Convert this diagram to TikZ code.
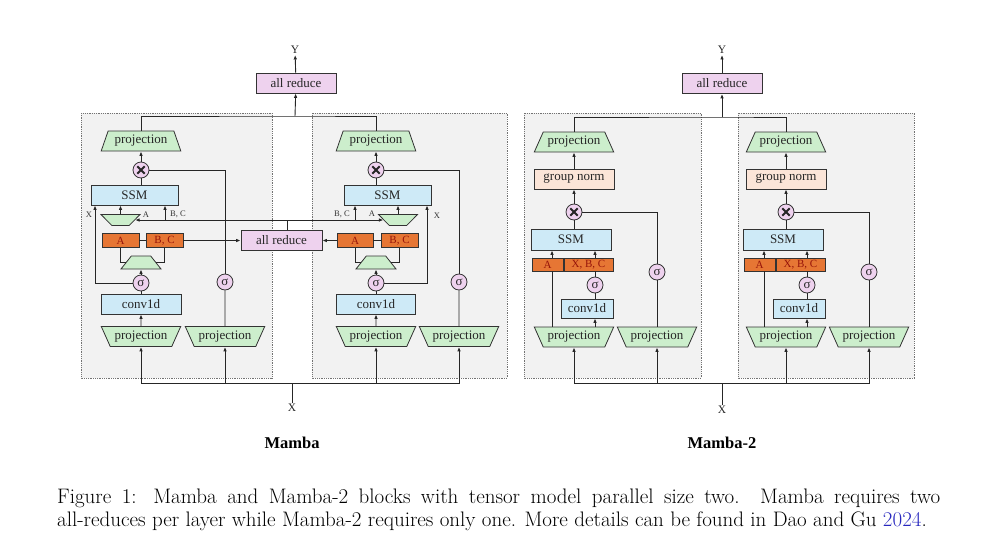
\documentclass[tikz,border=0pt]{standalone}
\usepackage{fontspec}
\newfontfamily\diafont{Liberation Serif}
\usetikzlibrary{shapes.geometric,arrows.meta}
\definecolor{projgreen}{RGB}{204,238,204}
\definecolor{ssmblue}{RGB}{206,234,247}
\definecolor{redpink}{RGB}{238,210,238}
\definecolor{normpeach}{RGB}{251,229,216}
\definecolor{abcorange}{RGB}{230,118,52}
\definecolor{abctext}{RGB}{150,20,10}
\definecolor{panelgray}{RGB}{242,242,242}
\definecolor{citeblue}{RGB}{40,40,190}
\begin{document}
\begin{tikzpicture}[x=1pt,y=-1pt,
    line/.style={draw=black!85,line width=0.9pt},
    arr/.style={line,-{Latex[length=4.5pt,width=3.6pt]}},
    panel/.style={draw=black!55,densely dotted,line width=0.8pt,fill=panelgray},
    box/.style={draw=black!80,line width=0.8pt,inner sep=0pt,text=black!85,
      font=\diafont\fontsize{13}{15}\selectfont},
    ssmbox/.style={box,fill=ssmblue,minimum height=20pt},
    reduce/.style={box,fill=redpink,minimum width=80pt,minimum height=20pt},
    normbox/.style={box,fill=normpeach,minimum width=80pt,minimum height=20pt},
    abc/.style={box,fill=abcorange,text=abctext,minimum height=14pt,
      font=\diafont\fontsize{11}{12}\selectfont},
    projup/.style={box,fill=projgreen,trapezium,trapezium stretches=true,
      trapezium angle=56,minimum width=80pt,minimum height=20pt},
    projdown/.style={projup,shape border rotate=180},
    smalldown/.style={box,inner sep=1pt,fill=projgreen,trapezium,trapezium stretches=true,
      trapezium angle=58,minimum width=39pt,minimum height=11pt,shape border rotate=180},
    smallup/.style={box,inner sep=1pt,fill=projgreen,trapezium,trapezium stretches=true,
      trapezium angle=62,minimum width=40pt,minimum height=13pt},
    sig/.style={box,circle,fill=redpink,minimum size=16pt},
    mul/.style={box,circle,fill=redpink,minimum size=16pt,
      path picture={\draw[line width=1.9pt,black!85]
        ([xshift=-3.7pt,yshift=-3.7pt]path picture bounding box.center) --
        ([xshift=3.7pt,yshift=3.7pt]path picture bounding box.center)
        ([xshift=-3.7pt,yshift=3.7pt]path picture bounding box.center) --
        ([xshift=3.7pt,yshift=-3.7pt]path picture bounding box.center);}},
    lbl/.style={inner sep=0pt,text=black!80,font=\diafont\fontsize{8.5}{9}\selectfont},
    io/.style={inner sep=1pt,text=black!85,font=\diafont\fontsize{11.5}{12}\selectfont}]
  \useasboundingbox (0,0) rectangle (990,555);

  % panels
  \draw[panel] (81,113) rectangle (272,378);
  \draw[panel] (312,113) rectangle (507,378);
  \draw[panel] (524,113) rectangle (701,378);
  \draw[panel] (738,113) rectangle (914,378);

  % Mamba, left half
  \node[reduce] (red1) at (296,83) {all reduce};
  \node[io] (y1) at (295,50) {Y};
  \node[projup,trapezium angle=64] (outA) at (141,141) {projection};
  \node[mul] (mulA) at (141,170) {};
  \node[ssmbox,minimum width=87pt] (ssmA) at (134.5,195) {SSM};
  \node[smalldown] (dtA) at (120.5,220) {};
  \node[abc,minimum width=37pt] (aA) at (120.5,240.5) {A};
  \node[abc,minimum width=37pt] (bcA) at (164.5,240.5) {B, C};
  \node[smallup] (xpA) at (141,262.5) {};
  \node[sig] (sigA) at (141,283) {σ};
  \node[ssmbox,minimum width=80pt] (convA) at (141,304) {conv1d};
  \node[projdown] (inA) at (141,336.5) {projection};
  \node[projdown] (gateA) at (225,336.5) {projection};
  \node[sig] (gsA) at (225,282) {σ};
  \node[lbl] (xlabA) at (89,215) {X};
  \node[lbl] (alabA) at (146,215) {A};
  \node[lbl] (bclabA) at (178,214) {B, C};

  % Mamba, right half
  \node[projup,trapezium angle=64] (outB) at (376,141) {projection};
  \node[mul] (mulB) at (376,170) {};
  \node[ssmbox,minimum width=87pt] (ssmB) at (387.5,195) {SSM};
  \node[smalldown] (dtB) at (398,220) {};
  \node[abc,minimum width=36pt] (aB) at (355,240.5) {A};
  \node[abc,minimum width=37pt] (bcB) at (399.5,240.5) {B, C};
  \node[smallup] (xpB) at (376,262.5) {};
  \node[sig] (sigB) at (376,283) {σ};
  \node[ssmbox,minimum width=79pt] (convB) at (376,304) {conv1d};
  \node[projdown] (inB) at (376,336.5) {projection};
  \node[projdown] (gateB) at (459,336.5) {projection};
  \node[sig] (gsB) at (459,282) {σ};
  \node[lbl] (xlabB) at (437,216) {X};
  \node[lbl] (alabB) at (372,214) {A};
  \node[lbl] (bclabB) at (342,214) {B, C};

  \node[reduce,minimum width=81pt] (redmid) at (281.5,240.5) {all reduce};
  \coordinate (topjoin1) at (295,116);
  \coordinate (midjoin) at (287,220);
  \coordinate (bcjA) at (165,220);
  \coordinate (bcjB) at (355,220);
  \coordinate (xbar1) at (292,383);
  \node[io] (xl1) at (292,408) {X};

  \draw[line] (outA) |- (topjoin1) -| (outB);
  \draw[arr] (topjoin1) -- (red1);
  \draw[arr] (red1) -- (y1);
  \draw[line] (xl1) -- (xbar1);
  \draw[arr] (xbar1) -| (inA);
  \draw[arr] (xbar1) -| (gateA);
  \draw[arr] (xbar1) -| (inB);
  \draw[arr] (xbar1) -| (gateB);
  \draw[line] (midjoin |- redmid.north) -- (midjoin);
  \draw[arr] (midjoin) -- (dtA);
  \draw[arr] (midjoin) -- (dtB);

  \draw[arr] (mulA) -- (outA);
  \draw[line] (mulA) -- (mulA |- ssmA.north);
  \draw[line] (mulA) -| (gsA);
  \draw[line] (gsA) -- (gateA);
  \draw[arr] (dtA) -- (dtA |- ssmA.south);
  \draw[arr] (bcjA) -- (bcjA |- ssmA.south);
  \draw[arr] (sigA) -| ([xshift=-39.5pt]ssmA.south);
  \draw[line] (aA) -- (bcA);
  \draw[arr] (bcA) -- (redmid);
  \draw[line] (aA.south) |- (xpA);
  \draw[line] (bcA.south) |- (xpA);
  \draw[arr] (sigA) -- (xpA);
  \draw[line] (convA) -- (sigA);
  \draw[arr] (inA) -- (convA);

  \draw[arr] (mulB) -- (outB);
  \draw[line] (mulB) -- (mulB |- ssmB.north);
  \draw[line] (mulB) -| (gsB);
  \draw[line] (gsB) -- (gateB);
  \draw[arr] (dtB) -- (dtB |- ssmB.south);
  \draw[arr] (bcjB) -- (bcjB |- ssmB.south);
  \draw[arr] (sigB) -| ([xshift=39.5pt]ssmB.south);
  \draw[line] (aB) -- (bcB);
  \draw[arr] (aB) -- (redmid);
  \draw[line] (aB.south) |- (xpB);
  \draw[line] (bcB.south) |- (xpB);
  \draw[arr] (sigB) -- (xpB);
  \draw[line] (convB) -- (sigB);
  \draw[arr] (inB) -- (convB);

  % Mamba-2, left half
  \node[reduce] (red2) at (722,83.5) {all reduce};
  \node[io] (y2) at (722,50) {Y};
  \node[projup] (outC) at (574,142) {projection};
  \node[normbox] (normC) at (574,179) {group norm};
  \node[mul] (mulC) at (574,212) {};
  \node[ssmbox,minimum width=80pt,minimum height=21pt] (ssmC) at (571,239.5) {SSM};
  \node[abc,minimum width=31pt,minimum height=13pt] (aC) at (547.5,264.5) {A};
  \node[abc,minimum width=49pt,minimum height=13pt] (xbcC) at (588.5,264.5) {X, B, C};
  \node[sig] (sigC) at (595,285) {σ};
  \node[ssmbox,minimum width=52pt,minimum height=19pt] (convC) at (587,308.5) {conv1d};
  \node[projdown] (inC) at (574,337) {projection};
  \node[projdown] (gateC) at (657,337) {projection};
  \node[sig] (gsC) at (657,272) {σ};

  % Mamba-2, right half
  \node[projup] (outD) at (786,142) {projection};
  \node[normbox] (normD) at (786,179) {group norm};
  \node[mul] (mulD) at (786,212) {};
  \node[ssmbox,minimum width=80pt,minimum height=21pt] (ssmD) at (783,239.5) {SSM};
  \node[abc,minimum width=31pt,minimum height=13pt] (aD) at (759.5,264.5) {A};
  \node[abc,minimum width=49pt,minimum height=13pt] (xbcD) at (800.5,264.5) {X, B, C};
  \node[sig] (sigD) at (807,285) {σ};
  \node[ssmbox,minimum width=52pt,minimum height=19pt] (convD) at (799,308.5) {conv1d};
  \node[projdown] (inD) at (786,337) {projection};
  \node[projdown] (gateD) at (869,337) {projection};
  \node[sig] (gsD) at (869,272) {σ};

  \coordinate (topjoin2) at (722,117);
  \coordinate (xbar2) at (722,383);
  \node[io] (xl2) at (722,410) {X};

  \draw[line] (outC) |- (topjoin2) -| (outD);
  \draw[arr] (topjoin2) -- (red2);
  \draw[arr] (red2) -- (y2);
  \draw[line] (xl2) -- (xbar2);
  \draw[arr] (xbar2) -| (inC);
  \draw[arr] (xbar2) -| (gateC);
  \draw[arr] (xbar2) -| (inD);
  \draw[arr] (xbar2) -| (gateD);

  \draw[arr] (normC) -- (outC);
  \draw[arr] (mulC) -- (normC);
  \draw[line] (mulC) -- (mulC |- ssmC.north);
  \draw[line] (mulC) -| (gsC);
  \draw[line] (gsC) -- (gateC);
  \draw[arr] ([xshift=4.5pt]aC.north) -- ([xshift=4.5pt]aC.north |- ssmC.south);
  \draw[line] ([xshift=4.5pt]aC.south) -- ++(0,55.5);
  \draw[arr] (sigC |- xbcC.north) -- (sigC |- ssmC.south);
  \draw[line] (sigC) -- (sigC |- xbcC.south);
  \draw[line] (sigC) -- (sigC |- convC.north);
  \draw[arr] ([xshift=8pt]convC.south) ++(0,9) -- ([xshift=8pt]convC.south);

  \draw[arr] (normD) -- (outD);
  \draw[arr] (mulD) -- (normD);
  \draw[line] (mulD) -- (mulD |- ssmD.north);
  \draw[line] (mulD) -| (gsD);
  \draw[line] (gsD) -- (gateD);
  \draw[arr] ([xshift=4.5pt]aD.north) -- ([xshift=4.5pt]aD.north |- ssmD.south);
  \draw[line] ([xshift=4.5pt]aD.south) -- ++(0,55.5);
  \draw[arr] (sigD |- xbcD.north) -- (sigD |- ssmD.south);
  \draw[line] (sigD) -- (sigD |- xbcD.south);
  \draw[line] (sigD) -- (sigD |- convD.north);
  \draw[arr] ([xshift=8pt]convD.south) ++(0,9) -- ([xshift=8pt]convD.south);

  % titles and caption
  \node[font=\diafont\bfseries\fontsize{16.5}{18}\selectfont] (titleA) at (292,443) {Mamba};
  \node[font=\diafont\bfseries\fontsize{16.5}{18}\selectfont] (titleB) at (722,443) {Mamba-2};
  \node[anchor=base west,inner sep=0pt,font=\fontsize{21}{23}\selectfont] (cap1) at (57,503)
    {\makebox[883pt][s]{Figure 1: Mamba and Mamba-2 blocks with tensor model parallel size two. Mamba requires two}};
  \node[anchor=base west,inner sep=0pt,font=\fontsize{21}{23}\selectfont] (cap2) at (57,526)
    {all-reduces per layer while Mamba-2 requires only one. More details can be found in Dao and Gu \textcolor{citeblue}{2024}.};
\end{tikzpicture}
\end{document}
